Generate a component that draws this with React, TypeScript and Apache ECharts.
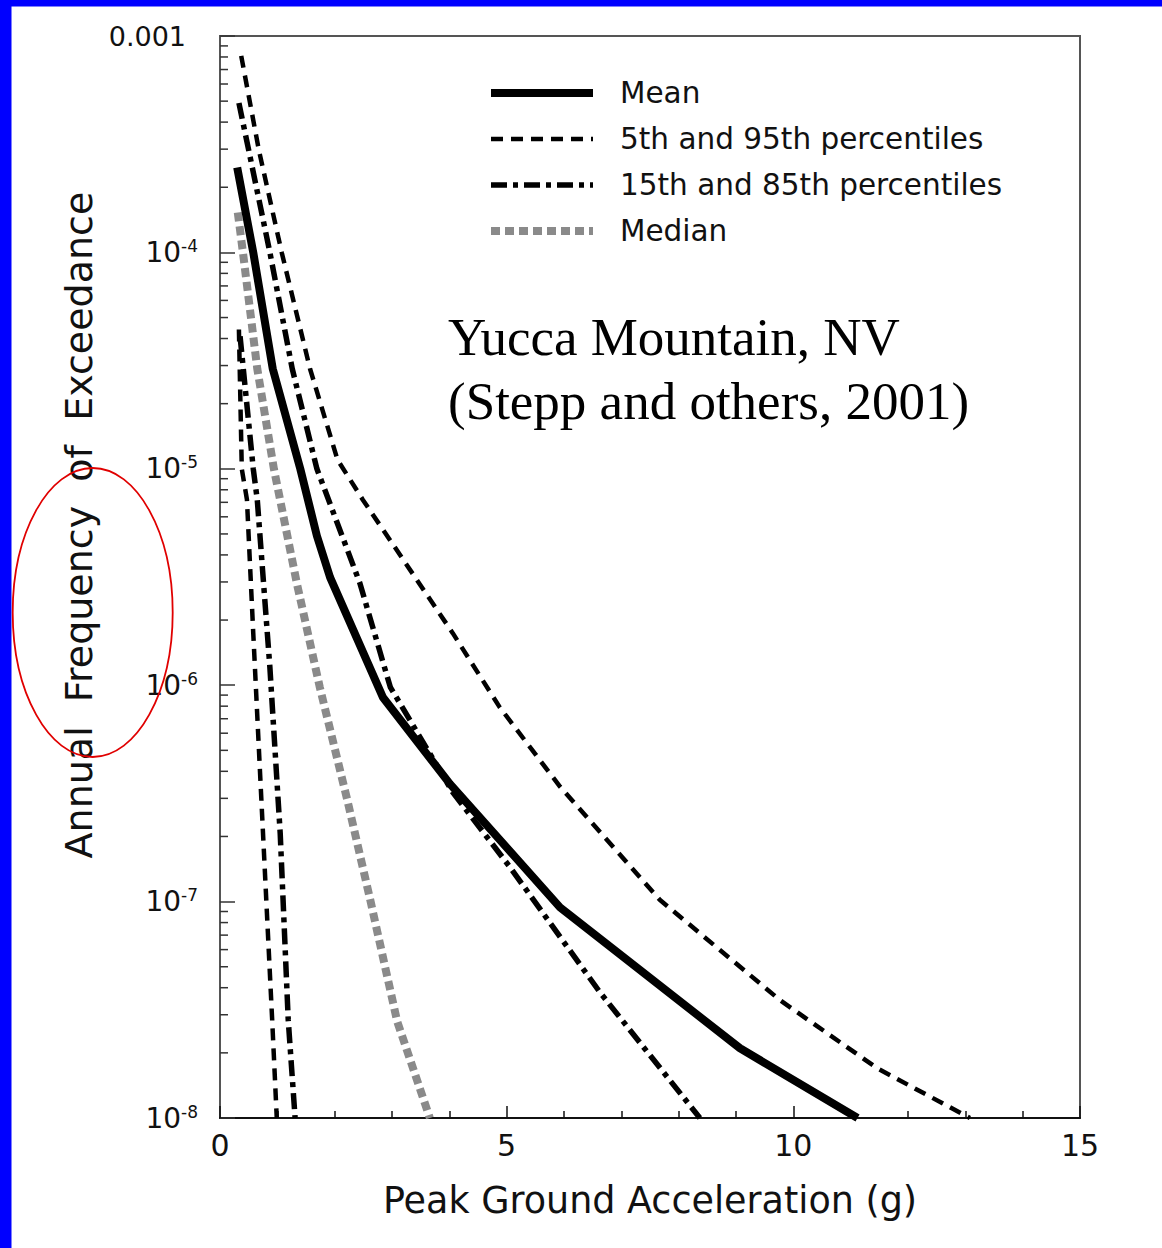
import React, { useEffect, useRef } from "react";
import * as echarts from "echarts";

// ---- data ----
const meanX = [0.30, 0.58, 0.92, 1.40, 1.69, 1.92, 2.84, 4.01, 5.93, 9.07, 11.12];
const meanY = [2.47e-4, 1.0e-4, 2.9e-5, 1.0e-5, 4.9e-6, 3.15e-6, 8.8e-7, 3.5e-7, 9.4e-8, 2.1e-8, 1.0e-8];

const p95X = [0.37, 0.68, 1.08, 1.57, 2.05, 2.49, 4.06, 4.88, 5.93, 7.67, 9.77, 11.46, 13.08];
const p95Y = [8.1e-4, 2.95e-4, 9.9e-5, 2.9e-5, 1.1e-5, 7.2e-6, 1.74e-6, 7.9e-7, 3.4e-7, 1.02e-7, 3.5e-8, 1.7e-8, 1.0e-8];

const p85X = [0.33, 0.87, 1.26, 1.69, 2.44, 2.97, 4.06, 5.06, 6.63, 8.37];
const p85Y = [4.9e-4, 1.0e-4, 2.9e-5, 1.0e-5, 2.96e-6, 9.8e-7, 3.2e-7, 1.44e-7, 3.8e-8, 1.0e-8];

const medianX = [0.31, 0.40, 0.65, 0.94, 1.34, 1.74, 2.22, 2.62, 3.09, 3.66];
const medianY = [1.53e-4, 1.0e-4, 2.9e-5, 1.0e-5, 2.96e-6, 9.8e-7, 2.95e-7, 1.02e-7, 2.8e-8, 1.0e-8];

const p5X = [0.33, 0.38, 0.47, 0.58, 0.75, 0.91, 0.99];
const p5Y = [4.4e-5, 1.0e-5, 7.2e-6, 1.74e-6, 2.07e-7, 2.84e-8, 1.0e-8];

const p15X = [0.35, 0.58, 0.65, 0.87, 1.05, 1.19, 1.31];
const p15Y = [4.1e-5, 1.0e-5, 7.2e-6, 1.21e-6, 2.07e-7, 2.84e-8, 1.0e-8];

const legendNames = ["Mean", "5th and 95th percentiles", "15th and 85th percentiles", "Median"];
const xTitle = "Peak Ground Acceleration (g)";
const yTitle = "Annual  Frequency  of  Exceedance";
const noteLine1 = "Yucca Mountain, NV";
const noteLine2 = "(Stepp and others, 2001)";

// minor tick positions of the log axis (2..9 within each decade)
const decades = [1e-8, 1e-7, 1e-6, 1e-5, 1e-4];
const minorMultipliers = [2, 3, 4, 5, 6, 7, 8, 9];
const yMinorTicks: number[] = [];
decades.forEach((d) => minorMultipliers.forEach((m) => yMinorTicks.push(m * d)));

const pair = (xs: number[], ys: number[]) => xs.map((x, i) => [x, ys[i]]);

const FONT = "DejaVu Sans";

export default function App() {
  const ref = useRef<HTMLDivElement>(null);
  useEffect(() => {
    if (!ref.current) return;
    const chart = echarts.init(ref.current, undefined, { renderer: "svg" });
    const dashed = { color: "#000", width: 4.5, type: [12, 8] as number[] };
    const dashDot = { color: "#000", width: 5.5, type: [16, 6, 5, 6] as number[] };
    const option: any = {
      animation: false,
      backgroundColor: "#ffffff",
      textStyle: { fontFamily: FONT },
      grid: {
        left: 220,
        right: 82,
        top: 36,
        bottom: 130,
        show: true,
        borderColor: "#555",
        borderWidth: 2,
        backgroundColor: "transparent",
      },
      legend: {
        orient: "vertical",
        left: 487,
        top: 78,
        padding: 0,
        itemWidth: 102,
        itemHeight: 16,
        itemGap: 16,
        data: legendNames,
        itemStyle: { opacity: 0 },
        lineStyle: { width: "inherit" },
        textStyle: {
          fontFamily: FONT,
          fontSize: 29.5,
          lineHeight: 30,
          color: "#111",
          padding: [0, 0, 0, 22],
        },
        selectedMode: false,
      },
      xAxis: {
        type: "value",
        min: 0,
        max: 15,
        interval: 5,
        name: xTitle,
        nameLocation: "middle",
        nameGap: 64,
        nameTextStyle: { fontFamily: FONT, fontSize: 36.5, color: "#111" },
        axisLine: { show: true, onZero: false, lineStyle: { color: "#111", width: 2 } },
        axisTick: { show: true, inside: true, length: 12, lineStyle: { color: "#111", width: 1.5 } },
        minorTick: { show: true, splitNumber: 5, length: 7, lineStyle: { color: "#111", width: 1.5 } },
        axisLabel: { fontFamily: FONT, fontSize: 30, color: "#111", margin: 12 },
        splitLine: { show: false },
        minorSplitLine: { show: false },
      },
      yAxis: {
        type: "log",
        logBase: 10,
        min: 1e-8,
        max: 1e-3,
        name: yTitle,
        nameLocation: "middle",
        nameRotate: 90,
        nameGap: 116,
        nameTextStyle: { fontFamily: FONT, fontSize: 38, color: "#111", padding: [0, 0, 0, 104] },
        axisLine: { show: true, lineStyle: { color: "#555", width: 2 } },
        axisTick: { show: true, inside: true, length: 15, lineStyle: { color: "#333", width: 1.5 } },
        splitLine: { show: false },
        axisLabel: {
          margin: 22,
          color: "#111",
          formatter: (v: number) => {
            const n = Math.round(Math.log10(v));
            if (n === -3) return "{p|0.001}";
            return `{b|10}{s|${n}}`;
          },
          rich: {
            p: { fontFamily: FONT, fontSize: 27, color: "#111", padding: [0, 12, 0, 0] },
            b: { fontFamily: FONT, fontSize: 28, color: "#111", lineHeight: 30 },
            s: { fontFamily: FONT, fontSize: 17, color: "#111", lineHeight: 14, verticalAlign: "top" },
          },
        },
      },
      series: [
        {
          type: "custom",
          name: "yMinorTicks",
          coordinateSystem: "cartesian2d",
          silent: true,
          clip: false,
          z: 3,
          data: yMinorTicks.map((v) => [0, v]),
          renderItem: (_params: any, api: any) => {
            const p = api.coord([0, api.value(1)]);
            return {
              type: "line",
              shape: { x1: p[0], y1: p[1], x2: p[0] + 8, y2: p[1] },
              style: { stroke: "#333", lineWidth: 1.5 },
            };
          },
        },
        {
          name: "Median",
          type: "line",
          data: pair(medianX, medianY),
          symbol: "none",
          lineStyle: { color: "#8a8a8a", width: 8, type: [9, 5] },
          itemStyle: { color: "#8a8a8a" },
          z: 4,
        },
        {
          name: "5th and 95th percentiles",
          type: "line",
          data: pair(p5X, p5Y),
          symbol: "none",
          lineStyle: dashed,
          itemStyle: { color: "#000" },
          z: 5,
        },
        {
          name: "5th and 95th percentiles",
          type: "line",
          data: pair(p95X, p95Y),
          symbol: "none",
          lineStyle: dashed,
          itemStyle: { color: "#000" },
          z: 5,
        },
        {
          name: "15th and 85th percentiles",
          type: "line",
          data: pair(p15X, p15Y),
          symbol: "none",
          lineStyle: dashDot,
          itemStyle: { color: "#000" },
          z: 5,
        },
        {
          name: "15th and 85th percentiles",
          type: "line",
          data: pair(p85X, p85Y),
          symbol: "none",
          lineStyle: dashDot,
          itemStyle: { color: "#000" },
          z: 5,
        },
        {
          name: "Mean",
          type: "line",
          data: pair(meanX, meanY),
          symbol: "none",
          lineStyle: { color: "#000", width: 8 },
          itemStyle: { color: "#000" },
          z: 6,
        },
      ],
      graphic: [
        { type: "rect", left: 0, top: 0, shape: { width: 1162, height: 6.5 }, style: { fill: "#0000ff" }, z: 100 },
        { type: "rect", left: 0, top: 0, shape: { width: 11.5, height: 1248 }, style: { fill: "#0000ff" }, z: 100 },
        {
          type: "text",
          x: 448,
          y: 337,
          style: { text: noteLine1, font: '53px "Liberation Serif", "Times New Roman", serif', fill: "#000", textVerticalAlign: "middle" },
          z: 50,
        },
        {
          type: "text",
          x: 448,
          y: 401,
          style: { text: noteLine2, font: '53px "Liberation Serif", "Times New Roman", serif', fill: "#000", textVerticalAlign: "middle" },
          z: 50,
        },
        {
          type: "ellipse",
          shape: { cx: 92.7, cy: 612.5, rx: 80, ry: 144.5 },
          style: { fill: "none", stroke: "#e00000", lineWidth: 1.8 },
          z: 60,
        },
      ],
    };
    chart.setOption(option);
    return () => chart.dispose();
  }, []);
  return (
    <div
      ref={ref}
      style={{ position: "absolute", left: 0, top: 0, width: 1162, height: 1248, background: "#fff" }}
    />
  );
}
